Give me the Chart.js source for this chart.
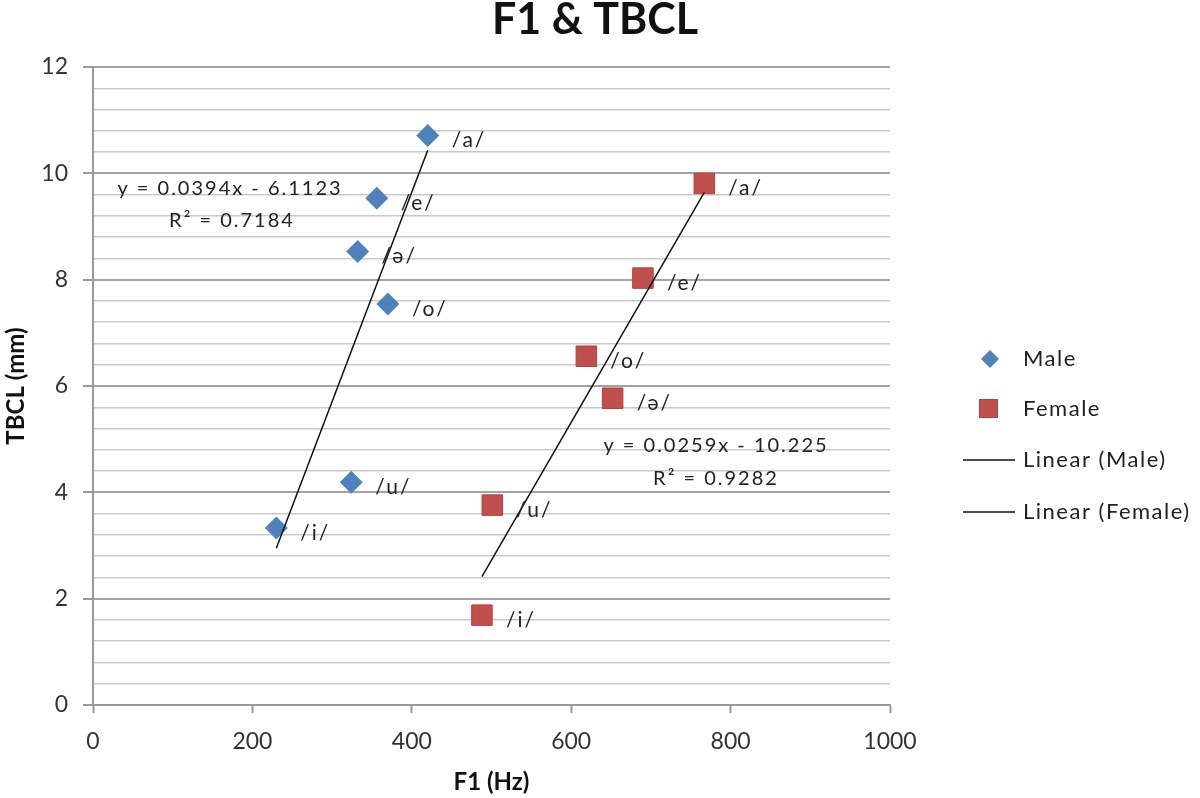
<!DOCTYPE html>
<html><head><meta charset="utf-8">
<script src="https://cdn.jsdelivr.net/npm/chart.js@4"></script>
<style>html,body{margin:0;padding:0;background:#fff;}#wrap{width:1200px;height:798px;}</style>
</head><body><div id="wrap"><canvas id="c" width="1200" height="798"></canvas></div>
<script>
// ---- data ----
const chartTitle = 'F1 & TBCL';
const xAxisTitle = 'F1 (Hz)';
const yAxisTitle = 'TBCL (mm)';
const maleVowels = ['/a/', '/e/', '/ə/', '/o/', '/u/', '/i/'];
const maleF1 = [420, 356, 332, 370, 324, 230];
const maleTBCL = [10.71, 9.53, 8.53, 7.54, 4.19, 3.33];
const femaleVowels = ['/a/', '/e/', '/o/', '/ə/', '/u/', '/i/'];
const femaleF1 = [767, 690, 619, 652, 501, 488];
const femaleTBCL = [9.81, 8.03, 6.56, 5.77, 3.76, 1.69];
const seriesNames = ['Male', 'Female', 'Linear (Male)', 'Linear (Female)'];
const trendSlopes = [0.0394, 0.0259];
const trendIntercepts = [-6.1123, -10.225];
const trendR2 = ['0.7184', '0.9282'];
const xTicks = [0, 200, 400, 600, 800, 1000];
const yMajorTicks = [0, 2, 4, 6, 8, 10, 12];
const yMinorStep = 0.4;

const FONT = 'Lato, "Open Sans", "Noto Sans", sans-serif';
const BLUE = '#4F81BD', RED = '#C0504D';

function pts(xs, ys) { return xs.map((x, i) => ({ x: x, y: ys[i] })); }
function trend(xs, k) {
  const lo = Math.min(...xs), hi = Math.max(...xs);
  return [{ x: lo, y: trendSlopes[k] * lo + trendIntercepts[k] },
          { x: hi, y: trendSlopes[k] * hi + trendIntercepts[k] }];
}
function eqText(k) {
  const b = trendIntercepts[k];
  return 'y = ' + trendSlopes[k] + 'x ' + (b < 0 ? '- ' : '+ ') + Math.abs(b);
}
const isMajor = v => Math.abs(v / 2 - Math.round(v / 2)) < 1e-6;

const pointLabels = [maleVowels, femaleVowels];

function spacedText(ctx, text, x, y, spacing, align) {
  ctx.save();
  try { ctx.letterSpacing = spacing + 'px'; } catch (e) {}
  const w = ctx.measureText(text).width;
  let sx = x;
  if (align === 'center') sx = x - w / 2;
  ctx.textAlign = 'left';
  ctx.fillText(text, sx, y);
  ctx.restore();
}

const decorPlugin = {
  id: 'decor',
  afterDatasetsDraw(chart) {
    const ctx = chart.ctx;
    const xs = chart.scales.x, ys = chart.scales.y;
    ctx.save();
    ctx.fillStyle = '#222';
    ctx.textBaseline = 'middle';
    ctx.font = '21px ' + FONT;
    // point labels
    [0, 1].forEach(di => {
      const ds = chart.data.datasets[di];
      ds.data.forEach((p, i) => {
        const px = xs.getPixelForValue(p.x), py = ys.getPixelForValue(p.y);
        spacedText(ctx, pointLabels[di][i], px + 24, py + 5, 2, 'left');
      });
    });
    // trendline equations
    ctx.font = '20px ' + FONT;
    spacedText(ctx, eqText(0), 230, 189, 2, 'center');
    spacedText(ctx, 'R² = ' + trendR2[0], 232, 221, 2, 'center');
    spacedText(ctx, eqText(1), 716, 446, 2, 'center');
    spacedText(ctx, 'R² = ' + trendR2[1], 716, 479, 2, 'center');
    ctx.restore();
  },
  afterDraw(chart) {
    const ctx = chart.ctx;
    ctx.save();
    // title
    ctx.fillStyle = '#111';
    ctx.font = 'bold 43px ' + FONT;
    ctx.textAlign = 'center';
    ctx.textBaseline = 'alphabetic';
    ctx.fillText(chartTitle, 595, 34);
    // legend
    const rows = [359, 409, 460, 512];
    ctx.textBaseline = 'middle';
    ctx.font = '22px ' + FONT;
    // male diamond
    ctx.fillStyle = BLUE;
    ctx.beginPath();
    ctx.moveTo(990, rows[0] - 9); ctx.lineTo(999, rows[0]); ctx.lineTo(990, rows[0] + 9); ctx.lineTo(981, rows[0]);
    ctx.closePath(); ctx.fill();
    // female square
    ctx.fillStyle = RED;
    ctx.fillRect(979, rows[1] - 10, 19, 19);
    ctx.strokeStyle = '#b5403d'; ctx.lineWidth = 1;
    ctx.strokeRect(979.5, rows[1] - 9.5, 18, 18);
    // trend lines
    ctx.strokeStyle = '#111'; ctx.lineWidth = 1.5;
    [rows[2], rows[3]].forEach(r => { ctx.beginPath(); ctx.moveTo(963, r); ctx.lineTo(1015, r); ctx.stroke(); });
    ctx.fillStyle = '#222';
    seriesNames.forEach((n, i) => spacedText(ctx, n, 1023, rows[i], 1.5, 'left'));
    ctx.restore();
  }
};

new Chart(document.getElementById('c'), {
  type: 'scatter',
  data: {
    datasets: [
      { label: seriesNames[0], data: pts(maleF1, maleTBCL), pointStyle: 'rectRot', pointRadius: 11.5,
        backgroundColor: BLUE, borderColor: BLUE, borderWidth: 0, order: 1 },
      { label: seriesNames[1], data: pts(femaleF1, femaleTBCL), pointStyle: 'rect', pointRadius: 14.5,
        backgroundColor: RED, borderColor: '#b5403d', borderWidth: 1, order: 1 },
      { label: seriesNames[2], type: 'line', data: trend(maleF1, 0), showLine: true, pointRadius: 0,
        borderColor: '#111', borderWidth: 1.5, fill: false, order: 0 },
      { label: seriesNames[3], type: 'line', data: trend(femaleF1, 1), showLine: true, pointRadius: 0,
        borderColor: '#111', borderWidth: 1.5, fill: false, order: 0 }
    ]
  },
  options: {
    responsive: false,
    animation: false,
    events: [],
    layout: { padding: { top: 67, right: 310, left: 0, bottom: 0 } },
    plugins: { legend: { display: false }, title: { display: false }, tooltip: { enabled: false } },
    scales: {
      x: {
        type: 'linear', min: xTicks[0], max: xTicks[xTicks.length - 1],
        afterBuildTicks: s => { s.ticks = xTicks.map(v => ({ value: v })); },
        ticks: { color: '#333', font: { family: FONT, size: 23 }, padding: 15, maxRotation: 0,
          callback: v => String(v) },
        grid: { drawOnChartArea: false, drawTicks: true, tickLength: 8, tickColor: '#999', tickWidth: 2 },
        border: { color: '#999', width: 2 },
        title: { display: true, text: xAxisTitle, color: '#111', font: { family: FONT, size: 24, weight: 'bold' }, padding: { top: 0, bottom: 1 } },
        afterFit: s => { s.height = 93; }
      },
      y: {
        type: 'linear', min: yMajorTicks[0], max: yMajorTicks[yMajorTicks.length - 1],
        ticks: { stepSize: yMinorStep, autoSkip: false, color: '#333', font: { family: FONT, size: 23 }, padding: 15,
          callback: v => isMajor(v) ? String(Math.round(v)) : '' },
        grid: {
          drawTicks: true, tickLength: 10,
          color: c => (c.tick && isMajor(c.tick.value)) ? '#a3a3a3' : '#c9c9c9',
          lineWidth: c => (c.tick && isMajor(c.tick.value)) ? 2 : 1.5,
          tickColor: c => (c.tick && isMajor(c.tick.value)) ? '#999' : 'rgba(0,0,0,0)',
          tickWidth: 2
        },
        border: { color: '#999', width: 2 },
        title: { display: true, text: yAxisTitle, color: '#111', font: { family: FONT, size: 24, weight: 'bold' }, padding: { top: 2, bottom: 0 } },
        afterFit: s => { s.width = 93; }
      }
    }
  },
  plugins: [decorPlugin]
});
</script>
</body></html>
